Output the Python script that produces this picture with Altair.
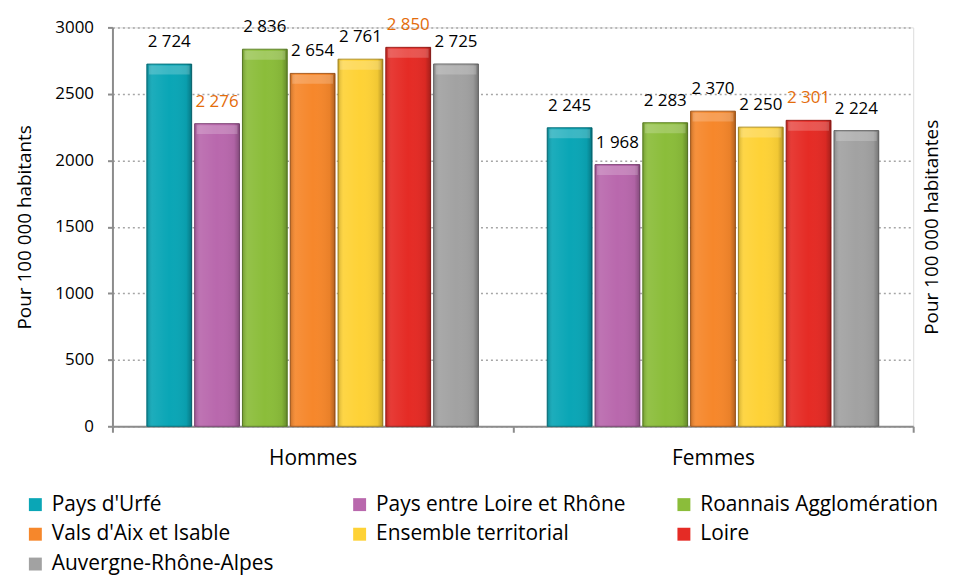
import altair as alt
import pandas as pd

groups = ["Hommes", "Femmes"]
series = ["Pays d'Urfé", "Pays entre Loire et Rhône", "Roannais Agglomération",
          "Vals d'Aix et Isable", "Ensemble territorial", "Loire", "Auvergne-Rhône-Alpes"]
hommes = [2724, 2276, 2836, 2654, 2761, 2850, 2725]
femmes = [2245, 1968, 2283, 2370, 2250, 2301, 2224]
hommes_highlight = [False, True, False, False, False, True, False]
femmes_highlight = [False, False, False, False, False, True, False]
colors = ["#0AA6B6", "#B968AD", "#8BBD3A", "#F6872B", "#FED236", "#E52B25", "#A2A2A2"]
edges = ["#07707B", "#7F4677", "#5E8227", "#A85C1D", "#AD8F25", "#9C1D19", "#6E6E6E"]
y_ticks = [0, 500, 1000, 1500, 2000, 2500, 3000]

rows = []
for g, vals, hls in [("Hommes", hommes, hommes_highlight), ("Femmes", femmes, femmes_highlight)]:
    for s, v, h in zip(series, vals, hls):
        rows.append({
            "groupe": g,
            "serie": s,
            "valeur": v,
            "label": f"{v:,}".replace(",", " "),
            "couleur": "#E46C0A" if h else "#000000",
        })
df = pd.DataFrame(rows)

FONT = "Open Sans"
W, H = 805, 401

x_enc = alt.X(
    "groupe:N", sort=groups,
    scale=alt.Scale(paddingInner=0, paddingOuter=0),
    axis=alt.Axis(title=None, labelAngle=0, tickBand="extent", labelFontSize=21,
                  labelColor="#000000", labelPadding=15, tickSize=6, tickWidth=2,
                  tickColor="#8C8C8C", domainColor="#8C8C8C", domainWidth=2,
                  labelFont=FONT),
)
xoff_enc = alt.XOffset("serie:N", sort=series,
                       scale=alt.Scale(paddingInner=0.0625, paddingOuter=0.72))
y_scale = alt.Scale(domain=[0, 3000], nice=False)

base = alt.Chart(df)

bars = base.mark_bar(strokeWidth=1).encode(
    x=x_enc,
    xOffset=xoff_enc,
    y=alt.Y("valeur:Q", scale=y_scale,
            axis=alt.Axis(values=y_ticks, format="d", title="Pour 100 000 habitants",
                          titleFontSize=19, titleFontWeight="normal", titleColor="#000000",
                          titleFont=FONT, titlePadding=20,
                          labelFontSize=17, labelColor="#000000", labelFont=FONT,
                          labelPadding=14, tickSize=5, tickWidth=2, tickColor="#8C8C8C",
                          domainColor="#8C8C8C", domainWidth=2,
                          grid=True, gridDash=[2, 3], gridColor="#A6A6A6", gridWidth=1.5)),
    color=alt.Color("serie:N", sort=series,
                    scale=alt.Scale(domain=series, range=colors),
                    legend=alt.Legend(orient="none", legendX=-88, legendY=469, columns=3,
                                      direction="horizontal", title=None, symbolType="square",
                                      symbolSize=169, symbolStrokeWidth=0, labelFontSize=21,
                                      labelFont=FONT, labelColor="#000000", rowPadding=8,
                                      columnPadding=48, gridAlign="all", labelOffset=6,
                                      labelLimit=400)),
    stroke=alt.Stroke("serie:N", sort=series,
                      scale=alt.Scale(domain=series, range=edges), legend=None),
)

shade = base.mark_bar(
    fill=alt.Gradient(
        gradient="linear", x1=0, x2=1, y1=0, y2=0,
        stops=[alt.GradientStop(offset=0, color="rgba(0,0,0,0.18)"),
               alt.GradientStop(offset=0.12, color="rgba(255,255,255,0.08)"),
               alt.GradientStop(offset=0.5, color="rgba(255,255,255,0.0)"),
               alt.GradientStop(offset=0.88, color="rgba(0,0,0,0.05)"),
               alt.GradientStop(offset=1, color="rgba(0,0,0,0.28)")],
    )
).encode(x=x_enc, xOffset=xoff_enc, y=alt.Y("valeur:Q", scale=y_scale, axis=None))

caps = base.mark_tick(color="#FFFFFF", opacity=0.2, thickness=9, size=41, yOffset=6).encode(
    x=x_enc, xOffset=xoff_enc, y=alt.Y("valeur:Q", scale=y_scale, axis=None)
)

labels = base.mark_text(fontSize=17, font=FONT, baseline="middle", dy=-22).encode(
    x=x_enc,
    xOffset=xoff_enc,
    y=alt.Y("valeur:Q", scale=y_scale,
            axis=alt.Axis(orient="right", title="Pour 100 000 habitantes", labels=False,
                          ticks=False, domain=False, grid=False, titleAngle=270,
                          titleFontSize=19, titleFontWeight="normal", titleColor="#000000",
                          titleFont=FONT, titlePadding=28)),
    text="label:N",
    color=alt.Color("couleur:N", scale=None),
)

chart = alt.layer(bars, shade, caps, labels).resolve_scale(color="independent").resolve_axis(
    y="independent"
).properties(
    width=W, height=H,
    padding={"left": 8, "top": 7, "right": 8, "bottom": 0},
).configure_view(stroke=None).configure(font=FONT)

chart.save("out.html", embed_options={"renderer": "svg", "actions": False})
